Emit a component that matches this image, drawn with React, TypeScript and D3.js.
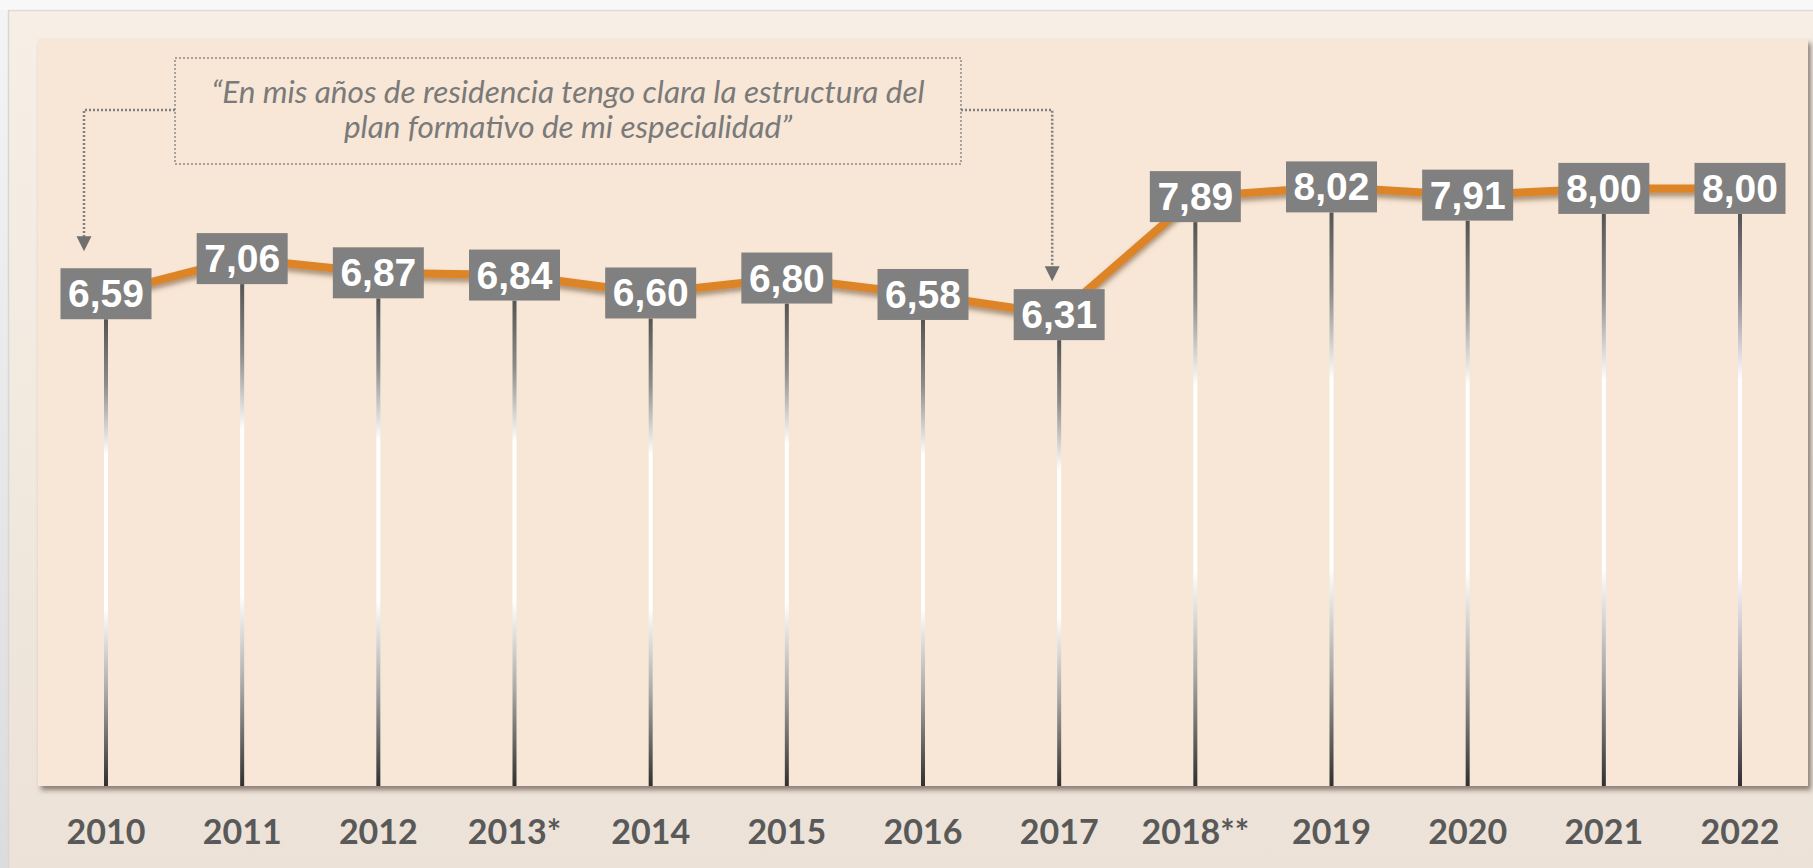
import React, { useRef, useEffect } from 'react';
import { select, scalePoint, scaleLinear, line, formatLocale } from 'd3';

const years = ['2010', '2011', '2012', '2013*', '2014', '2015', '2016', '2017', '2018**', '2019', '2020', '2021', '2022'];
const scores = [6.59, 7.06, 6.87, 6.84, 6.6, 6.8, 6.58, 6.31, 7.89, 8.02, 7.91, 8.0, 8.0];
const quoteLines = [
  '“En mis años de residencia tengo clara la estructura del',
  'plan formativo de mi especialidad”',
];

const W = 1813;
const H = 868;
const panel = { left: 38, top: 39, right: 1808, bottom: 786 };
const boxW = 91;
const boxH = 51;

const es = formatLocale({ decimal: ',', thousands: '.', grouping: [3], currency: ['', '€'] });
const fmt = es.format('.2f');

const App: React.FC = () => {
  const svgRef = useRef<SVGSVGElement>(null);

  useEffect(() => {
    const svg = select(svgRef.current as any);
    svg.selectAll('*').remove();

    const data = years.map((year, i) => ({ year, value: scores[i] }));

    const xScale = scalePoint<string>().domain(years).range([106, 1740]);
    const yScale = scaleLinear().domain([0, 10]).range([panel.bottom, panel.top]);

    const defs = svg.append('defs');

    const outerGrad = defs.append('linearGradient').attr('id', 'outerBg').attr('x1', 0).attr('y1', 0).attr('x2', 0).attr('y2', 1);
    outerGrad.append('stop').attr('offset', 0).attr('stop-color', '#f7efe6');
    outerGrad.append('stop').attr('offset', 1).attr('stop-color', '#ece2d7');

    const leftGrad = defs.append('linearGradient').attr('id', 'leftBg').attr('x1', 0).attr('y1', 0).attr('x2', 0).attr('y2', 1);
    leftGrad.append('stop').attr('offset', 0).attr('stop-color', '#f4f4f4');
    leftGrad.append('stop').attr('offset', 1).attr('stop-color', '#dcdcdc');

    // vertical drop line gradient: dark -> white -> dark
    const stemGrad = defs.append('linearGradient').attr('id', 'stem').attr('x1', 0).attr('y1', 0).attr('x2', 0).attr('y2', 1);
    [
      [0, '#555555'],
      [0.14, '#8c8c8c'],
      [0.29, '#ffffff'],
      [0.62, '#ffffff'],
      [0.8, '#a9a9a9'],
      [1, '#303030'],
    ].forEach(([o, c]) => stemGrad.append('stop').attr('offset', o).attr('stop-color', c));

    const panelShadow = defs.append('filter').attr('id', 'panelShadow').attr('x', '-5%').attr('y', '-5%').attr('width', '110%').attr('height', '110%');
    panelShadow.append('feDropShadow').attr('dx', 3).attr('dy', 4).attr('stdDeviation', 2.5)
      .attr('flood-color', '#3a2a1a').attr('flood-opacity', 0.55);

    const lineShadow = defs.append('filter').attr('id', 'lineShadow').attr('x', '-5%').attr('y', '-20%').attr('width', '110%').attr('height', '140%');
    lineShadow.append('feDropShadow').attr('dx', 0).attr('dy', 4).attr('stdDeviation', 2.5)
      .attr('flood-color', '#6b4a2a').attr('flood-opacity', 0.55);

    // backgrounds
    svg.append('rect').attr('x', 0).attr('y', 0).attr('width', W).attr('height', H).attr('fill', '#f8f8f8');
    svg.append('rect').attr('x', 0).attr('y', 10).attr('width', 9).attr('height', H - 10).attr('fill', 'url(#leftBg)');
    svg.append('rect').attr('x', 9).attr('y', 11).attr('width', W - 9).attr('height', H - 11).attr('fill', 'url(#outerBg)');
    svg.append('line').attr('x1', 8).attr('x2', W).attr('y1', 10.5).attr('y2', 10.5).attr('stroke', '#dcdcdc').attr('stroke-width', 1.5);
    svg.append('line').attr('x1', 8.5).attr('x2', 8.5).attr('y1', 10).attr('y2', H).attr('stroke', '#d6d6d6').attr('stroke-width', 1.5);

    svg.append('rect')
      .attr('x', panel.left).attr('y', panel.top)
      .attr('width', panel.right - panel.left).attr('height', panel.bottom - panel.top)
      .attr('fill', '#f8e7d6')
      .attr('filter', 'url(#panelShadow)');

    // drop lines
    svg.selectAll('.stem')
      .data(data)
      .join('rect')
      .attr('class', 'stem')
      .attr('x', d => (xScale(d.year) as number) - 2)
      .attr('y', d => yScale(d.value) + boxH / 2)
      .attr('width', 4)
      .attr('height', d => panel.bottom - (yScale(d.value) + boxH / 2))
      .attr('fill', 'url(#stem)');

    // orange line
    const path = line<{ year: string; value: number }>()
      .x(d => xScale(d.year) as number)
      .y(d => yScale(d.value));
    svg.append('path')
      .datum(data)
      .attr('d', path)
      .attr('fill', 'none')
      .attr('stroke', '#dc8427')
      .attr('stroke-width', 8)
      .attr('stroke-linejoin', 'round')
      .attr('filter', 'url(#lineShadow)');

    // value boxes
    svg.selectAll('.vbox')
      .data(data)
      .join('rect')
      .attr('class', 'vbox')
      .attr('x', d => (xScale(d.year) as number) - boxW / 2)
      .attr('y', d => yScale(d.value) - boxH / 2)
      .attr('width', boxW)
      .attr('height', boxH)
      .attr('fill', '#808080');

    svg.selectAll('.vlabel')
      .data(data)
      .join('text')
      .attr('class', 'vlabel')
      .attr('x', d => xScale(d.year) as number)
      .attr('y', d => yScale(d.value) + 13.5)
      .attr('text-anchor', 'middle')
      .attr('font-family', '"Liberation Sans", Arial, sans-serif')
      .attr('font-weight', 'bold')
      .attr('font-size', 39)
      .attr('fill', '#ffffff')
      .text(d => fmt(d.value));

    // year labels
    svg.selectAll('.ylabel')
      .data(data)
      .join('text')
      .attr('class', 'ylabel')
      .attr('x', d => xScale(d.year) as number)
      .attr('y', 844)
      .attr('text-anchor', 'middle')
      .attr('font-family', 'Lato, "Open Sans", sans-serif')
      .attr('font-weight', 'bold')
      .attr('font-size', 34)
      .attr('fill', '#595959')
      .text(d => d.year);

    // annotation box
    const note = { x0: 175, y0: 58, x1: 961, y1: 164 };
    const midY = (note.y0 + note.y1) / 2 - 1;
    svg.append('rect')
      .attr('x', note.x0).attr('y', note.y0)
      .attr('width', note.x1 - note.x0).attr('height', note.y1 - note.y0)
      .attr('fill', 'none')
      .attr('stroke', '#8a8a8a')
      .attr('stroke-width', 1.5)
      .attr('stroke-dasharray', '2 2');

    svg.selectAll('.quote')
      .data(quoteLines)
      .join('text')
      .attr('class', 'quote')
      .attr('x', (note.x0 + note.x1) / 2)
      .attr('y', (d, i) => 103 + i * 35)
      .attr('text-anchor', 'middle')
      .attr('font-family', 'Lato, "Open Sans", sans-serif')
      .attr('font-style', 'italic')
      .attr('font-size', 31.5)
      .attr('fill', '#7a7a7a')
      .text(d => d);

    // connectors with arrows
    const first = data[0];
    const target = data[7];
    const leftX = (xScale(first.year) as number) - 22;
    const leftTip = yScale(first.value) - boxH / 2 - 17;
    const rightX = (xScale(target.year) as number) - 7;
    const rightTip = yScale(target.value) - boxH / 2 - 8;

    const connectors = [
      { pts: [[note.x0, midY], [leftX, midY], [leftX, leftTip - 14]], ax: leftX, tip: leftTip },
      { pts: [[note.x1, midY], [rightX, midY], [rightX, rightTip - 14]], ax: rightX, tip: rightTip },
    ];
    connectors.forEach(c => {
      svg.append('path')
        .attr('d', line()(c.pts as [number, number][]))
        .attr('fill', 'none')
        .attr('stroke', '#808080')
        .attr('stroke-width', 2.5)
        .attr('stroke-dasharray', '2 2');
      svg.append('path')
        .attr('d', `M${c.ax - 7.5},${c.tip - 15}L${c.ax + 7.5},${c.tip - 15}L${c.ax},${c.tip}Z`)
        .attr('fill', '#707070');
    });
  }, []);

  return (
    <svg
      ref={svgRef}
      width={W}
      height={H}
      role="img"
      style={{ position: 'absolute', left: 0, top: 0, display: 'block' }}
    ></svg>
  );
};

export default App;
